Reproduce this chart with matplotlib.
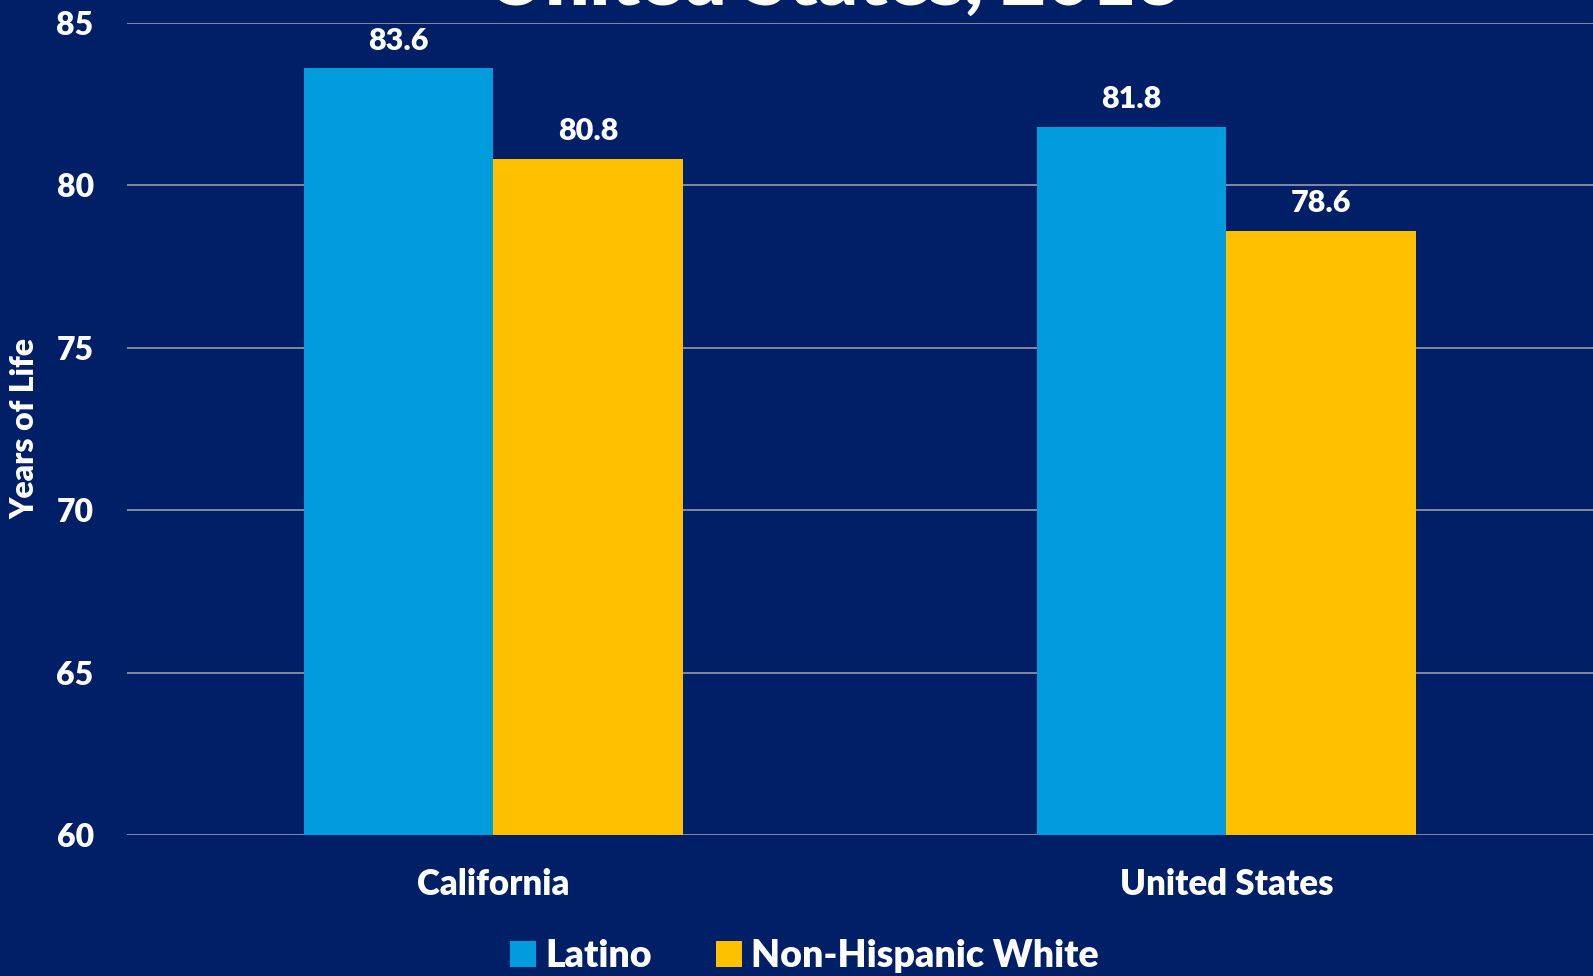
import matplotlib
matplotlib.use("Agg")
import matplotlib.pyplot as plt
import numpy as np

# 数据
categories = ["California", "United States"]
latino = [83.6, 81.8]
nh_white = [80.8, 78.6]
series_names = ["Latino", "Non-Hispanic White"]
yticks = [60, 65, 70, 75, 80, 85]

bg = "#001F66"
c_lat = "#009CDE"
c_nhw = "#FFC000"

plt.rcParams['font.family'] = ['Lato', 'DejaVu Sans']
plt.rcParams['font.weight'] = 'bold'

fig = plt.figure(figsize=(15.93, 9.76), dpi=100, facecolor=bg)
ax = fig.add_axes([0.0797, 0.1445, 0.9203, 0.832])
ax.set_facecolor(bg)

x = np.arange(len(categories))
w = 0.259
b1 = ax.bar(x - w / 2, latino, w, color=c_lat, label=series_names[0], zorder=3)
b2 = ax.bar(x + w / 2, nh_white, w, color=c_nhw, label=series_names[1], zorder=3)

for bars, vals in [(b1, latino), (b2, nh_white)]:
    for r, v in zip(bars, vals):
        ax.annotate(f"{v:.1f}", (r.get_x() + r.get_width() / 2, v),
                    xytext=(0, 10), textcoords="offset points",
                    ha="center", va="bottom", color="white",
                    fontsize=22, fontweight="heavy")

ax.set_xlim(-0.5, 1.5)
ax.set_ylim(60, 85)
ax.set_yticks(yticks)
ax.set_xticks(x)
ax.set_xticklabels(categories)
ax.tick_params(axis="y", length=0, pad=24, labelsize=23, labelcolor="white")
ax.tick_params(axis="x", length=0, pad=24, labelsize=25, labelcolor="white")
for lab in ax.get_xticklabels() + ax.get_yticklabels():
    lab.set_fontweight("heavy")
ax.grid(axis="y", color="#9A9AA8", linewidth=1.2, zorder=0)
for s in ax.spines.values():
    s.set_visible(False)

ax.set_ylabel("Years of Life", color="white", fontsize=23, fontweight="heavy", labelpad=12)

# 标题（顶部被裁切）
fig.text(0.5236, 1 - 5 / 976, "United States, 2013", ha="center", va="baseline",
         color="white", fontsize=56, fontweight="heavy")

leg = fig.legend(loc="center", bbox_to_anchor=(0.505, 1 - 956 / 976), ncol=2,
                 frameon=False, fontsize=27, handlelength=0.7, handleheight=0.7,
                 handletextpad=0.25, columnspacing=1.7, labelcolor="white")
for t in leg.get_texts():
    t.set_fontweight("heavy")

fig.savefig("out.png", dpi=100, facecolor=bg)
